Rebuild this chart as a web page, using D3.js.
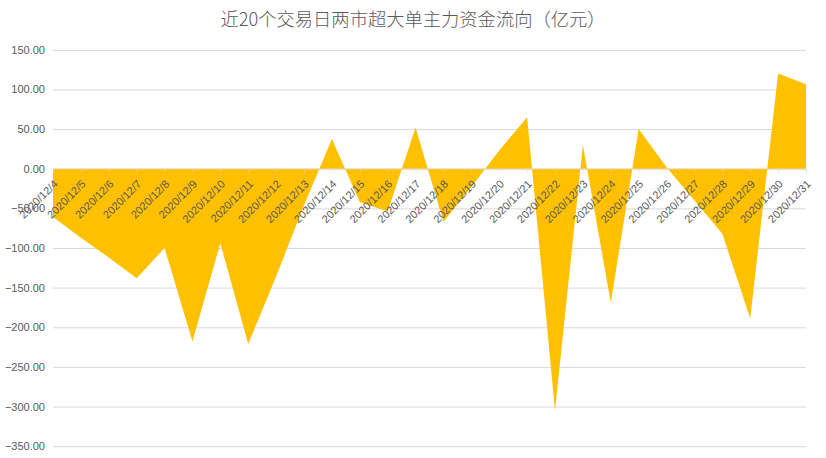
<!DOCTYPE html>
<html>
<head>
<meta charset="utf-8">
<script src="https://cdn.jsdelivr.net/npm/d3@7"></script>
<style>
  html, body { margin: 0; padding: 0; background: #fff; }
  svg { display: block; }
</style>
</head>
<body>
<svg id="chart" width="826" height="458"></svg>
<script>
const title = "近20个交易日两市超大单主力资金流向（亿元）";
const categories = [
  "2020/12/4","2020/12/5","2020/12/6","2020/12/7","2020/12/8","2020/12/9","2020/12/10",
  "2020/12/11","2020/12/12","2020/12/13","2020/12/14","2020/12/15","2020/12/16","2020/12/17",
  "2020/12/18","2020/12/19","2020/12/20","2020/12/21","2020/12/22","2020/12/23","2020/12/24",
  "2020/12/25","2020/12/26","2020/12/27","2020/12/28","2020/12/29","2020/12/30","2020/12/31"
];
const values = [
  -61, -87, -112, -138, -100, -218, -94,
  -221, -136, -46, 37.5, -42, -54, 52,
  -67, -23, 23, 65, -305, 30, -169,
  50, 2, -40, -82, -189, 120, 106.5
];
const yTicks = [150, 100, 50, 0, -50, -100, -150, -200, -250, -300, -350];

(function () {
const svg = d3.select("#chart");
const mLeft = 53, mRight = 806, mTop = 49.8, mBottom = 446.2;

const x = d3.scalePoint().domain(categories).range([mLeft, mRight]);
const y = d3.scaleLinear().domain([-350, 150]).range([mBottom, mTop]);

// Title
svg.append("text")
  .attr("x", 413).attr("y", 26)
  .attr("text-anchor", "middle")
  .attr("font-family", "'Noto Sans CJK SC', sans-serif")
  .attr("font-size", 18.3)
  .attr("font-weight", 300)
  .attr("fill", "#595959")
  .text(title);

// Gridlines + value axis labels
const yAxis = d3.axisLeft(y).tickValues(yTicks).tickSize(-(mRight - mLeft))
  .tickFormat(d => d3.format(".2f")(d)).tickPadding(8);
const gy = svg.append("g").attr("transform", `translate(${mLeft},0)`).call(yAxis);
gy.select(".domain").remove();
gy.selectAll(".tick line").attr("stroke", "#D9D9D9").attr("stroke-width", 1);
gy.selectAll(".tick text")
  .attr("font-family", "'Liberation Sans', Arial, sans-serif")
  .attr("font-size", 11)
  .attr("fill", "#595959");

// Area
const area = d3.area()
  .x((d, i) => x(categories[i]))
  .y0(y(0))
  .y1(d => y(d));
svg.append("path")
  .datum(values)
  .attr("d", area)
  .attr("fill", "#FFC000");

// Category axis
const xAxis = d3.axisBottom(x).tickSize(4).tickFormat(d => d);
const gx = svg.append("g").attr("transform", `translate(0,${y(0)})`).call(xAxis);
gx.select(".domain").attr("stroke", "#D9D9D9").attr("stroke-opacity", 0.6);
gx.selectAll(".tick line").attr("stroke", "#D9D9D9").attr("stroke-opacity", 0.6);
gx.selectAll(".tick text")
  .attr("font-family", "'Liberation Sans', Arial, sans-serif")
  .attr("font-size", 11)
  .attr("fill", "#595959")
  .attr("text-anchor", "end")
  .attr("dy", null)
  .attr("y", null)
  .attr("transform", "translate(5,16) rotate(-45)");
})();
</script>
</body>
</html>
